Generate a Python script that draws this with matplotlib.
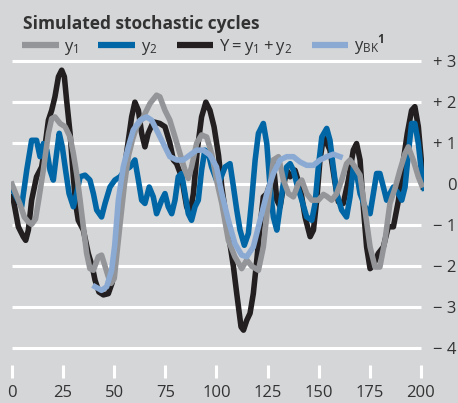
import matplotlib
matplotlib.use("Agg")
import matplotlib.pyplot as plt
from matplotlib.lines import Line2D

plt.rcParams["font.family"] = ["Open Sans", "DejaVu Sans"]
plt.rcParams["mathtext.fontset"] = "custom"
plt.rcParams["mathtext.rm"] = "Open Sans"
plt.rcParams["mathtext.bf"] = "Open Sans:bold"

BG = "#d5d6d8"
GREY = "#939598"
BLUE = "#0066a6"
BLACK = "#231f20"
LIGHT = "#8aaad4"

# y1 (grey)
y1_x = [0, 2, 4, 6, 8, 9.6, 11.5, 13, 15.3, 17.8, 19.4, 21, 23.5, 26, 28.4, 30, 31.6, 33.3,
        34.9, 36.5, 38.1, 39.8, 42.2, 43.8, 45.5, 47.1, 48.4, 50, 51.5, 53, 55, 57, 59, 61,
        64.2, 67.5, 70.7, 72.3, 74.8, 77.2, 79.7, 82.1, 84.6, 86.2, 87.8, 90.3, 92.7, 95.2,
        97.6, 100, 102.6, 105.8, 109, 112.3, 114.8, 117.2, 120.5, 122.9, 125.4, 127.8, 130.3,
        132.7, 135.2, 137.6, 140.1, 141.7, 144.1, 146.6, 149.8, 152.3, 154, 156.3, 158.8,
        161.2, 163.6, 165.3, 167.7, 170.2, 172.6, 175.1, 177.5, 179.9, 182.4, 184.8, 187.3,
        189.7, 192.2, 193.8, 196.2, 198.7, 200.3]
y1_v = [0, -0.25, -0.5, -0.8, -0.92, -0.98, -0.85, -0.4, 0.34, 1.24, 1.6, 1.64, 1.48, 1.4,
        1.15, 0.75, 0.26, -0.39, -1.04, -1.69, -2.06, -2.1, -1.77, -1.73, -2.0, -2.26, -2.42,
        -2.3, -1.6, -0.9, 0.0, 0.7, 1.1, 1.4, 1.64, 1.97, 2.17, 2.13, 1.8, 1.56, 1.15, 0.75,
        0.34, 0.14, 0.42, 1.0, 1.2, 1.15, 0.75, 0.1, -0.47, -1.37, -1.77, -2.06, -1.85, -2.0,
        -2.1, -1.53, -0.39, 0.59, 0.67, 0.1, -0.23, -0.31, 0.02, 0.1, -0.23, -0.39, -0.39,
        -0.25, -0.3, -0.39, -0.23, 0.1, 0.5, 0.59, 0.42, 0.22, -0.63, -1.53, -2.02, -2.02,
        -1.37, -0.47, -0.1, 0.34, 0.75, 0.91, 0.59, 0.18, -0.02]

# y2 (blue)
y2_x = [0, 2, 4.7, 7.2, 9.6, 12, 13.7, 15.3, 17, 18.6, 20.2, 21.8, 23.1, 24.6, 26.2, 27.9,
        30, 31.6, 33.3, 35.7, 38.1, 39.8, 41.4, 43.8, 45.5, 47.9, 50.3, 52.8, 55.2, 57.7,
        60.1, 61.8, 63.4, 65, 67.1, 69.1, 70.7, 73.2, 74.8, 76.4, 78.1, 79.7, 81.3, 82.9,
        84.6, 86.2, 87.8, 89.5, 91.1, 92.7, 94.3, 96, 97.6, 100, 101.7, 104.2, 106.6, 108.3,
        109.9, 111.5, 113.6, 115.6, 117.2, 118.9, 120.5, 122.9, 124.6, 126.2, 127.8, 129.5,
        131.1, 132.7, 134.3, 136, 137.6, 139.2, 141.7, 144.1, 146.6, 148.2, 149.8, 151.5,
        153.9, 155.5, 157.1, 158.8, 161.2, 163.6, 165.3, 166.9, 168.5, 170.2, 172.6, 175.1,
        176.7, 178.3, 179.9, 181.6, 183.2, 184.8, 186.5, 189, 190.6, 192.2, 193.8, 195.4,
        197, 198.7, 200.3, 201.5]
y2_v = [-0.1, -0.3, -0.55, 0.34, 1.07, 1.07, 0.67, 0.99, 0.83, 0.34, 0.1, 0.75, 1.24, 0.91,
        0.34, -0.23, -0.55, -0.23, 0.18, 0.22, 0.1, -0.23, -0.63, -0.8, -0.47, -0.07, 0.1,
        0.18, 0.34, 0.42, 0.59, 0.1, -0.39, -0.47, -0.07, -0.31, -0.72, -0.39, -0.23, -0.55,
        -0.72, -0.39, 0.18, 0.26, -0.23, -0.72, -0.88, -0.55, -0.39, 0.34, 0.83, 0.75, 0.42,
        0.1, 0.1, 0.42, 0.5, -0.07, -0.63, -1.12, -1.49, -1.2, -0.39, 0.59, 1.24, 1.48, 0.99,
        -0.07, -0.8, -1.12, -0.55, 0.02, 0.42, 0.5, 0.34, 0.02, -0.39, -0.8, -0.88, -0.47,
        0.42, 1.15, 1.36, 1.07, 0.42, -0.23, -0.63, -0.8, -0.31, 0.42, 0.26, -0.23, -0.55,
        -0.72, -0.23, 0.26, 0.26, -0.07, -0.39, -0.23, -0.07, -0.23, -0.39, -0.07, 0.75,
        1.48, 1.48, 0.99, 0.26, -0.1]

# Y = y1 + y2 (black)
yy_x = [0, 0.7, 3.1, 5.5, 6.7, 8, 9.6, 12, 14.5, 16.1, 17.8, 19.4, 21, 22.7, 24.3, 25.6,
        26.7, 28.4, 30, 31.1, 32.4, 34.9, 37.3, 39.3, 40.6, 42.5, 44.7, 47.1, 49, 51.2, 53.6,
        56, 58.5, 60.1, 61.8, 63.4, 65, 66.6, 69.1, 72.3, 74.8, 77.2, 78.9, 80.5, 82.9, 85.4,
        87, 88.7, 90.6, 92.7, 94.8, 96.8, 98.8, 101, 102.6, 105.8, 108.3, 109.9, 112, 113.2,
        114.8, 116.4, 118, 119.7, 121.3, 122.9, 124.6, 126.2, 127.8, 129.5, 131.1, 132.7,
        134.3, 136, 138.4, 140.9, 143.3, 145.8, 147.4, 149, 150.6, 152.3, 153.5, 155.5, 158,
        159.6, 162, 164.5, 166.9, 168.5, 170.2, 171.8, 173.4, 175.1, 176.7, 179.1, 181.6, 184,
        186.5, 189, 191.4, 193.3, 195.4, 197, 198.7, 200.3, 201.1]
yy_v = [-0.3, -0.39, -1.04, -1.28, -1.37, -1.12, -0.39, 0.18, 0.42, 0.91, 1.56, 1.8, 2.13,
        2.62, 2.78, 2.62, 2.05, 1.24, 0.18, -0.47, -0.88, -1.12, -1.69, -2.02, -2.34, -2.63,
        -2.7, -2.67, -2.4, -1.53, -0.39, 0.75, 1.64, 2.0, 1.8, 1.24, 0.91, 1.24, 1.52, 1.48,
        1.4, 1.0, 0.59, 0.5, 0.18, -0.55, -0.72, -0.23, 0.83, 1.64, 2.0, 1.8, 1.4, 0.7, -0.07,
        -1.2, -2.02, -2.67, -3.48, -3.56, -3.32, -3.15, -2.67, -1.85, -1.04, -0.31, -0.23,
        0.02, 0.5, -0.39, -0.55, -0.07, 0.34, 0.18, 0.34, -0.07, -0.8, -1.28, -1.12, -0.39,
        0.59, 1.15, 1.05, 0.83, 0.02, -0.43, -0.47, 0.1, 0.83, 0.99, 0.59, -0.55, -1.53,
        -2.06, -1.98, -1.69, -1.53, -1.04, -1.04, -0.39, 0.59, 1.24, 1.8, 1.89, 1.4, 0.5,
        -0.07]

# y_BK (light blue)
bk_x = [40.6, 43.8, 46.3, 48.7, 50.2, 52, 54.4, 56.9, 59.3, 62.6, 65.8, 68.3, 70.7, 74, 77.2,
        80.5, 83.7, 87, 90.3, 93.5, 96.8, 100, 102.6, 105.8, 109, 112.3, 114.8, 118, 121.3,
        124.6, 127.8, 131.1, 134.3, 137.6, 140.9, 144.1, 147.4, 150.6, 153.9, 157.1, 160.4]
bk_v = [-2.5, -2.59, -2.5, -2.1, -1.5, -0.39, 0.42, 0.91, 1.32, 1.56, 1.64, 1.56, 1.32, 0.99,
        0.67, 0.59, 0.59, 0.71, 0.83, 0.83, 0.71, 0.42, -0.23, -0.88, -1.45, -1.73, -1.77,
        -1.53, -0.88, -0.23, 0.26, 0.59, 0.67, 0.67, 0.54, 0.46, 0.46, 0.59, 0.67, 0.73, 0.67]

x_ticks = [0, 25, 50, 75, 100, 125, 150, 175, 200]
y_ticks = [-4, -3, -2, -1, 0, 1, 2, 3]
y_labels = ["\u2212 4", "\u2212 3", "\u2212 2", "\u2212 1", "0", "+ 1", "+ 2", "+ 3"]

W, H = 458, 403
fig = plt.figure(figsize=(W / 100, H / 100), dpi=100, facecolor=BG)
x0, x1 = -0.5, 201.5
px_per_x = 409 / 200
left = 12 + x0 * px_per_x
right = 421 + (x1 - 200) * px_per_x
ax = fig.add_axes([left / W, 1 - 365 / H, (right - left) / W, 310 / H])
ax.set_facecolor(BG)
ax.set_xlim(x0, x1)
ax.set_ylim(-4.41, 3.15)

for v in y_ticks:
    ax.plot([0, 200], [v, v], color="white", lw=2.2, zorder=1, solid_capstyle="butt")

lw = 4.0
ax.plot(yy_x, yy_v, color=BLACK, lw=lw, zorder=2, solid_joinstyle="round")
ax.plot(y2_x, y2_v, color=BLUE, lw=lw, zorder=3, solid_joinstyle="round")
ax.plot(y1_x, y1_v, color=GREY, lw=lw, zorder=4, solid_joinstyle="round")
ax.plot(bk_x, bk_v, color=LIGHT, lw=lw, zorder=5, solid_joinstyle="round")

for s in ax.spines.values():
    s.set_visible(False)

ax.set_xticks(x_ticks)
ax.set_xticklabels([str(t) for t in x_ticks])
ax.tick_params(axis="x", direction="out", length=9.4, width=2.2, color="white",
               pad=5, labelsize=12, labelcolor="#333333")

ax.yaxis.tick_right()
ax.set_yticks(y_ticks)
ax.set_yticklabels(y_labels)
ax.tick_params(axis="y", length=0, pad=23.5, labelsize=12, labelcolor="#333333")
for lab in ax.get_yticklabels():
    lab.set_horizontalalignment("right")

fig.text(23 / W, 1 - 29 / H, "Simulated stochastic cycles", fontsize=12.5,
         fontweight="bold", color="#333333", va="baseline", ha="left")

handles = [Line2D([], [], color=c, lw=4.5, solid_capstyle="butt")
           for c in (GREY, BLUE, BLACK, LIGHT)]
labels = [r"$\mathregular{y_1}$", r"$\mathregular{y_2}$",
          r"$\mathregular{Y = y_1 + y_2}$", r"${\mathregular{y_{BK}}}^{\mathbf{1}}$"]
fig.legend(handles, labels, loc="center left", bbox_to_anchor=(22 / W, 1 - 45 / H),
           ncol=4, frameon=False, fontsize=12, handlelength=2.2, handletextpad=0.35,
           columnspacing=1.15, borderaxespad=0, borderpad=0, labelcolor="#333333")

fig.savefig("out.png", dpi=100, facecolor=BG)
